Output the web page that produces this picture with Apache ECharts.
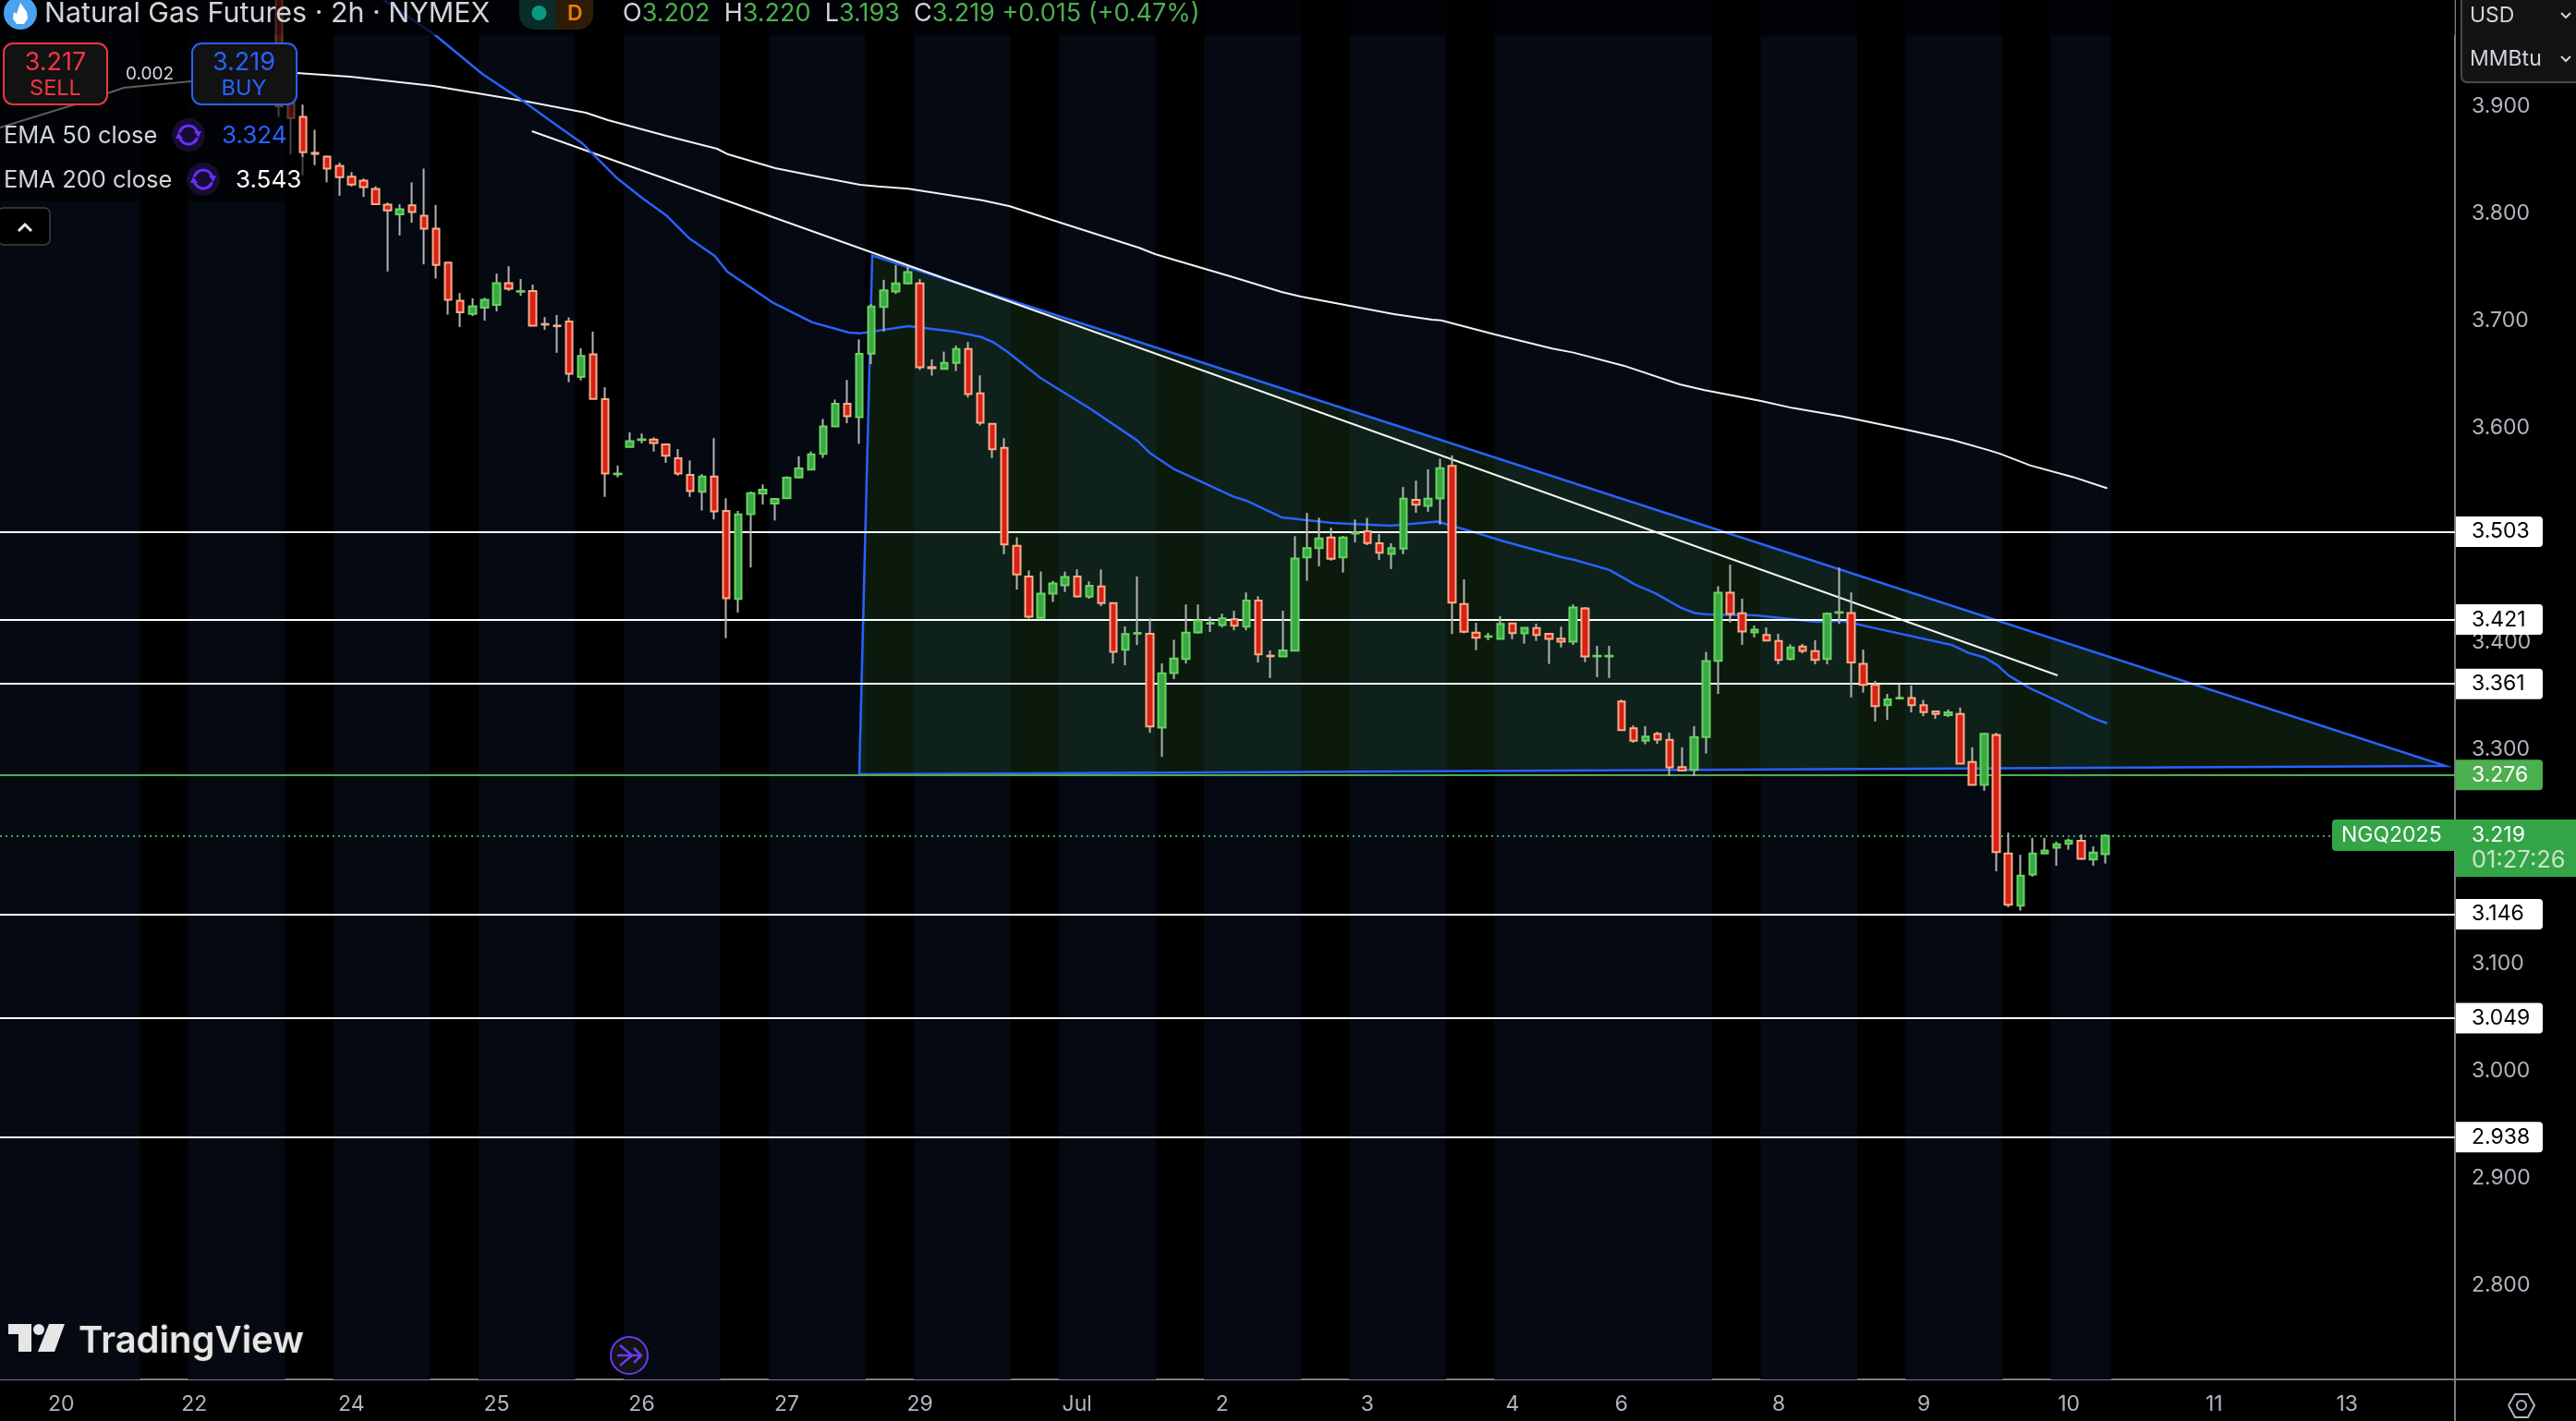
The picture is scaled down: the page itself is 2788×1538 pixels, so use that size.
<!DOCTYPE html>
<html>
<head>
<meta charset="utf-8">
<style>
  html, body { margin: 0; padding: 0; background: #000; }
  #chart { width: 2788px; height: 1538px; }
</style>
<script src="https://cdn.jsdelivr.net/npm/echarts@6/dist/echarts.min.js"></script>
</head>
<body>
<div id="chart"></div>
<script>
// 2h bars, one entry per bar
var opens = [4.02,3.93,3.89,3.8565,3.853,3.8444,3.8342,3.8306,3.8227,3.8081,3.7992,3.8075,3.7979,3.7857,3.754,3.7184,3.7062,3.7121,3.7147,3.7349,
  3.7269,3.7276,3.6968,3.6953,3.6992,3.6474,3.6685,3.6266,3.5566,3.5821,3.5885,3.589,3.5844,3.5715,3.556,3.5402,3.5544,3.5224,3.4402,3.5194,
  3.5385,3.5293,3.5342,3.5537,3.561,3.5755,3.6012,3.6223,3.6098,3.6692,3.7126,3.7272,3.7347,3.7347,3.6565,3.6549,3.6605,3.6734,3.6321,3.6037,
  3.5813,3.4899,3.4612,3.4226,3.4453,3.4529,3.4612,3.4424,3.4519,3.4364,3.3929,3.4078,3.4077,3.3203,3.3711,3.3843,3.409,3.4172,3.416,3.4212,
  3.4143,3.4387,3.3873,3.3866,3.3919,3.479,3.4876,3.4975,3.479,3.5012,3.5034,3.4922,3.4823,3.4872,3.5328,3.5272,3.5341,3.5643,3.4355,3.4087,
  3.4049,3.4029,3.4175,3.4081,3.4131,3.4076,3.4032,3.4003,3.4314,3.3866,3.3866,3.3446,3.3196,3.3079,3.3143,3.3088,3.2834,3.2808,3.3114,3.3825,
  3.446,3.4268,3.409,3.4067,3.4011,3.3842,3.3959,3.3915,3.3842,3.4273,3.4271,3.3796,3.36,3.3411,3.3474,3.3478,3.3411,3.3353,3.3318,3.3329,
  3.288,3.2668,3.3134,3.2027,3.154,3.1832,3.2027,3.2082,3.2117,3.2146,3.1972,3.2021];
var closes = [3.9,3.889,3.857,3.8555,3.8418,3.8339,3.827,3.8246,3.8085,3.8028,3.8038,3.8012,3.7857,3.752,3.7194,3.7078,3.7134,3.7194,3.7349,3.7296,
  3.7275,3.6953,3.6962,3.6947,3.6504,3.6669,3.627,3.5573,3.5572,3.5874,3.5892,3.5857,3.5738,3.5573,3.5408,3.5544,3.522,3.4408,3.5191,3.5389,
  3.5421,3.5336,3.5534,3.562,3.5752,3.6012,3.6223,3.6108,3.6689,3.7131,3.7281,3.7347,3.7453,3.6565,3.6555,3.6605,3.6734,3.6315,3.6047,3.58,
  3.4912,3.4631,3.4236,3.4453,3.4546,3.4608,3.4427,3.4526,3.4364,3.3909,3.4074,3.4085,3.3213,3.3708,3.3846,3.4087,3.4199,3.4178,3.4222,3.4153,
  3.4387,3.3886,3.3867,3.3922,3.478,3.4876,3.4968,3.4777,3.4975,3.5022,3.4925,3.4833,3.4876,3.5338,3.5282,3.5338,3.5622,3.4367,3.4096,3.4041,
  3.4055,3.4169,3.4084,3.4134,3.4067,3.4029,3.4003,3.4323,3.3866,3.3872,3.3872,3.3178,3.3079,3.3117,3.3091,3.2831,3.2802,3.3114,3.3822,3.446,
  3.4262,3.4099,3.4116,3.4014,3.3834,3.395,3.3918,3.3834,3.4265,3.4279,3.381,3.36,3.3402,3.3466,3.348,3.3411,3.3347,3.3329,3.3344,3.2866,
  3.2668,3.3143,3.2041,3.1549,3.182,3.2027,3.2056,3.2114,3.2149,3.1977,3.2036,3.2193];
var lows = [3.89,3.855,3.8355,3.845,3.829,3.8164,3.825,3.8154,3.8085,3.7458,3.7794,3.7913,3.7524,3.7392,3.7055,3.694,3.7042,3.6999,3.7085,3.7276,
  3.723,3.6953,3.6913,3.6699,3.6425,3.6441,3.627,3.5355,3.5537,3.5821,3.5854,3.5778,3.5672,3.5553,3.5355,3.5227,3.5144,3.4036,3.4276,3.4696,
  3.5283,3.5134,3.5342,3.5527,3.561,3.5718,3.6012,3.6042,3.585,3.6593,3.6899,3.7248,3.7337,3.6539,3.6486,3.6549,3.6529,3.6282,3.6021,3.5717,
  3.482,3.449,3.4219,3.4219,3.4374,3.4467,3.4417,3.4404,3.4335,3.38,3.3783,3.3972,3.3153,3.2929,3.3655,3.38,3.408,3.4094,3.4137,3.411,
  3.411,3.381,3.3665,3.3866,3.3919,3.4572,3.4707,3.476,3.4648,3.4929,3.4905,3.4767,3.4681,3.482,3.5206,3.5216,3.5097,3.4075,3.4081,3.3924,
  3.4017,3.4029,3.4026,3.3985,3.4011,3.3796,3.395,3.3973,3.3813,3.3673,3.3665,3.3178,3.3061,3.3047,3.305,3.2749,3.2793,3.2749,3.296,3.3516,
  3.4183,3.3974,3.4043,3.4014,3.3793,3.3828,3.3895,3.3793,3.3793,3.4169,3.3484,3.3528,3.3259,3.3274,3.3464,3.3344,3.3309,3.3283,3.33,3.2866,
  3.2668,3.2613,3.1861,3.1526,3.1494,3.1811,3.2021,3.1913,3.2062,3.1969,3.1913,3.1934];
var highs = [4.05,3.95,3.9015,3.878,3.854,3.8474,3.8385,3.8326,3.8253,3.8101,3.8085,3.8289,3.8418,3.8078,3.754,3.7256,3.7207,3.7213,3.7438,3.7507,
  3.7388,3.7336,3.7032,3.7052,3.7029,3.6742,3.6897,3.6378,3.5646,3.5956,3.5946,3.591,3.5844,3.5801,3.5695,3.5567,3.5903,3.5342,3.5224,3.5405,
  3.5471,3.5336,3.5547,3.5735,3.5778,3.6081,3.6263,3.6445,3.6824,3.7154,3.738,3.7519,3.7503,3.7387,3.6638,3.671,3.6767,3.68,3.6489,3.6037,
  3.5902,3.4978,3.4668,3.4658,3.4572,3.4658,3.4678,3.4566,3.4678,3.4364,3.4146,3.4612,3.4219,3.3801,3.4021,3.4351,3.4351,3.4236,3.4265,3.4292,
  3.4463,3.4427,3.3922,3.4292,3.4988,3.5206,3.516,3.5067,3.4991,3.5143,3.5159,3.5008,3.4922,3.5447,3.5506,3.5612,3.5711,3.5742,3.4585,3.418,
  3.4087,3.4241,3.4175,3.4134,3.4172,3.4076,3.4143,3.4352,3.4326,3.3965,3.3965,3.3463,3.3222,3.3216,3.3163,3.3155,3.3018,3.3216,3.3909,3.4521,
  3.4722,3.4405,3.4154,3.4137,3.4078,3.3979,3.3982,3.4017,3.4277,3.4696,3.4463,3.393,3.3638,3.3516,3.3606,3.3595,3.346,3.3362,3.337,3.3388,
  3.3018,3.3155,3.3155,3.2222,3.2015,3.2173,3.2173,3.2138,3.2167,3.2205,3.2094,3.2205];

// EMA curves read at the bends, [bar position, price]
var ema50 = [[8.65,3.9991],[12.93,3.9663],[16.82,3.9301],[20.26,3.9043],[22.37,3.887],[25.07,3.8655],[27.98,3.8327],[30.11,3.8138],[32.02,3.7983],[33.93,3.7767],
  [36.04,3.7603],[37.07,3.7457],[40.89,3.7164],[44.1,3.6983],[47.15,3.6888],[48.03,3.688],[52.04,3.6948],[55.9,3.6896],[58,3.6849],[59.14,3.6793],
  [60.21,3.6711],[62.96,3.6465],[67.16,3.6172],[70.98,3.588],[71.98,3.5767],[74.04,3.5612],[78.9,3.5358],[80,3.5319],[82.9,3.5164],[87.1,3.5112],
  [91.92,3.5086],[95.78,3.5124],[98.8,3.5026],[101.16,3.4944],[106.05,3.4793],[107.12,3.4767],[110.02,3.4673],[112.16,3.4535],[113.77,3.4457],[115.94,3.4319],
  [117.05,3.4271],[118.11,3.4259],[122.1,3.425],[127.13,3.419],[129.27,3.4198],[131.79,3.4134],[138.29,3.3974],[139.74,3.3897],[141,3.3857],[142.08,3.3785],
  [142.99,3.369],[144.78,3.3569],[146.92,3.3457],[150.01,3.3289],[151.17,3.3241]];
var ema200 = [[-23.06,3.88],[-17.1,3.9008],[-12.82,3.9172],[-7.24,3.9232],[1.47,3.931],[5.9,3.9276],[12.77,3.9189],[20.57,3.9043],[25.38,3.8939],[27.21,3.887],
  [32.02,3.8724],[36.23,3.8603],[37.14,3.8551],[41.04,3.8422],[44.86,3.8336],[48.06,3.8267],[49.52,3.8252],[52.04,3.823],[58.15,3.8123],[60.44,3.8066],
  [64.8,3.7907],[71.14,3.7678],[72.44,3.762],[74.23,3.756],[78.9,3.7405],[82.9,3.7267],[84.5,3.7224],[92.2,3.706],[95.35,3.7008],[96.1,3.7002],
  [100.47,3.6873],[105.28,3.6739],[107.04,3.6701],[111.16,3.658],[115.82,3.6405],[117.88,3.6351],[122.55,3.625],[125.15,3.6184],[129.27,3.6106],[134.54,3.5983],
  [138.33,3.5888],[141.2,3.5796],[142.26,3.5759],[144.78,3.5649],[148.37,3.5539],[151.17,3.5435]];

// drawings on the chart
var trendLine = [[20.92,3.8767],[147.07,3.3689]];
var triangle = [[49.06,3.7607],[47.99,3.2767],[179.14,3.2844]];
var whiteLevels = [3.503,3.421,3.361,3.146,3.049,2.938];
var greenLevel = 3.276;
var lastPrice = 3.219;

// session shading, start and end in bar positions
var sessions = [[-23.5,-11.5],[-7.5,0.5],[4.5,12.5],[16.5,24.5],[28.5,36.5],[40.5,48.5],[52.5,60.5],[64.5,72.5],[76.5,84.5],[88.5,96.5],
  [100.5,118.5],[122.5,130.5],[134.5,142.5],[146.5,151.5]];

var dayTicks = [-18,-7,6,18,30,42,53,66,78,90,102,111,124,136,148,160,171];
var dayLabels = ['20','22','24','25','26','27','29','Jul','2','3','4','6','8','9','10','11','13'];
var priceTicks = [2.8,2.9,3.0,3.1,3.3,3.4,3.6,3.7,3.8,3.9];

var FONT = 'Inter';
var GREY = '#b2b5be';
var TEXT = '#d1d4dc';

var myChart = echarts.init(document.getElementById('chart'));

function levelLine(v, color, textColor) {
    return {
        yAxis: v,
        lineStyle: { color: color, width: 2, type: 'solid', opacity: 1 },
        label: {
            show: true,
            position: 'end',
            distance: 1,
            formatter: v.toFixed(3),
            fontFamily: FONT,
            fontSize: 23,
            color: textColor,
            backgroundColor: color,
            borderRadius: [0, 4, 4, 0],
            width: 77,
            height: 33,
            lineHeight: 33,
            padding: [0, 0, 0, 17],
            align: 'left'
        }
    };
}

// little helpers for the screen furniture around the chart
function txt(x, y, text, size, fill, extra) {
    var style = { x: x, y: y, text: text, fontFamily: FONT, fontSize: size, fill: fill, textVerticalAlign: 'middle', verticalAlign: 'middle' };
    for (var k in (extra || {})) style[k] = extra[k];
    return { type: 'text', z: 120, silent: true, style: style };
}
function box(x, y, w, h, fill, stroke, r, z) {
    return { type: 'rect', z: z || 110, silent: true, shape: { x: x, y: y, width: w, height: h, r: r || 0 },
        style: { fill: fill, stroke: stroke || null, lineWidth: stroke ? 2 : 0 } };
}
function line(points, stroke, width) {
    return { type: 'polyline', z: 121, silent: true, shape: { points: points },
        style: { stroke: stroke, lineWidth: width, fill: null } };
}
function poly(points, fill, z) {
    return { type: 'polygon', z: z || 121, silent: true, shape: { points: points }, style: { fill: fill } };
}
function circle(cx, cy, r, fill, stroke, z) {
    return { type: 'circle', z: z || 120, silent: true, shape: { cx: cx, cy: cy, r: r },
        style: { fill: fill, stroke: stroke || null, lineWidth: stroke ? 2 : 0 } };
}
function refreshIcon(cx, cy) {
    return [
        circle(cx, cy, 18, '#170c33'),
        { type: 'arc', z: 121, silent: true, shape: { cx: cx, cy: cy, r: 10, startAngle: 3.4, endAngle: 5.9 }, style: { stroke: '#6a2ff5', lineWidth: 3, fill: null } },
        { type: 'arc', z: 121, silent: true, shape: { cx: cx, cy: cy, r: 10, startAngle: 0.3, endAngle: 2.8 }, style: { stroke: '#6a2ff5', lineWidth: 3, fill: null } },
        poly([[cx + 6, cy - 4], [cx + 14, cy - 4], [cx + 11, cy + 3]], '#6a2ff5'),
        poly([[cx - 6, cy + 4], [cx - 14, cy + 4], [cx - 11, cy - 3]], '#6a2ff5')
    ];
}

var furniture = [
    // header and legend veil
    box(0, 0, 2657, 38, 'rgba(0,0,0,0.72)', null, 0, 100),
    box(0, 38, 320, 132, 'rgba(0,0,0,0.62)', null, 0, 100),
    box(0, 170, 335, 48, 'rgba(0,0,0,0.62)', null, 0, 100),

    // title row
    circle(22, 14, 18, '#4aa3f0'),
    poly([[22, 3], [29, 13], [30, 20], [26, 26], [18, 26], [14, 20], [15, 13], [18, 15]], '#ffffff', 121),
    txt(48, 15, 'Natural Gas Futures · 2h · NYMEX', 30.4, TEXT),
    box(562, 0, 40, 32, '#0a2b28', null, [0, 0, 0, 16]),
    box(602, 0, 40, 32, '#2e1c07', null, [0, 0, 16, 0]),
    circle(583.5, 14, 8, '#089981'),
    txt(614, 15, 'D', 23, '#f57c00', { fontWeight: 600 }),
    {
        type: 'text', z: 120, silent: true,
        style: {
            x: 674, y: 15, verticalAlign: 'middle', textVerticalAlign: 'middle',
            text: '{k|O}{v|3.202}  {k|H}{v|3.220}  {k|L}{v|3.193}  {k|C}{v|3.219} {v|+0.015 (+0.47%)}',
            fontFamily: FONT, fontSize: 27,
            rich: {
                k: { fill: TEXT, fontFamily: FONT, fontSize: 27 },
                v: { fill: '#4caf50', fontFamily: FONT, fontSize: 27 }
            }
        }
    },

    // sell and buy boxes
    box(4, 47, 112, 66, '#121212', '#f23645', 10),
    txt(60, 68, '3.217', 27, '#f23645', { textAlign: 'center', align: 'center' }),
    txt(60, 96, 'SELL', 23.5, '#f23645', { textAlign: 'center', align: 'center' }),
    txt(162, 80, '0.002', 19, TEXT, { textAlign: 'center', align: 'center' }),
    box(208, 47, 113, 66, '#121212', '#2962ff', 10),
    txt(264, 68, '3.219', 27, '#2962ff', { textAlign: 'center', align: 'center' }),
    txt(264, 96, 'BUY', 23.5, '#2962ff', { textAlign: 'center', align: 'center' }),

    // indicator legend
    txt(4, 147, 'EMA 50 close', 25.5, TEXT),
    txt(240, 147, '3.324', 26, '#2962ff'),
    txt(4, 195, 'EMA 200 close', 25.5, TEXT),
    txt(255, 195, '3.543', 26, '#ffffff'),
    box(-2, 225, 56, 40, '#000000', '#333333', 6),
    line([[20, 250], [27, 243], [34, 250]], '#e8e8e8', 3),

    // unit menu
    box(2664, -6, 130, 95, '#131313', '#4a4a4a', 6),
    txt(2673, 17, 'USD', 23, TEXT),
    txt(2673, 64, 'MMBtu', 23, TEXT),
    line([[2772, 14], [2777, 19], [2782, 14]], TEXT, 2),
    line([[2772, 61], [2777, 66], [2782, 61]], TEXT, 2),

    // axis lines beyond the plot
    line([[2657, 1493], [2788, 1493]], '#7a7d86', 2),
    line([[2657, 1493], [2657, 1538]], '#7a7d86', 2),

    // last price tags
    box(2524, 887, 134, 34, '#34a547', null, [4, 0, 0, 4]),
    txt(2534, 904, 'NGQ2025', 23, '#ffffff'),
    box(2658, 887, 130, 62, '#34a547'),
    txt(2675, 904, lastPrice.toFixed(3), 23, '#ffffff'),
    txt(2675, 931, '01:27:26', 25.5, '#c8e6c9'),

    // logo
    poly([[9, 1433], [34, 1433], [34, 1463], [20, 1463], [20, 1444], [9, 1444]], '#e6e6e6'),
    circle(42, 1439, 6, '#e6e6e6', null, 121),
    poly([[53, 1433], [70, 1433], [59, 1463], [41, 1463]], '#e6e6e6'),
    txt(85, 1452, 'TradingView', 40, '#e6e6e6', { fontWeight: 600, stroke: '#121212', lineWidth: 3 }),

    // go to realtime button
    circle(681, 1467, 20, '#131313', '#6a3cf0'),
    line([[671, 1456], [684, 1467], [671, 1478]], '#6a3cf0', 2.5),
    line([[668, 1467], [694, 1467]], '#6a3cf0', 2.5),
    line([[686, 1459], [694, 1467], [686, 1475]], '#6a3cf0', 2.5),

    // settings icon
    line([[2715, 1521], [2722, 1509], [2736, 1509], [2743, 1521], [2736, 1534], [2722, 1534], [2715, 1521]], GREY, 2),
    circle(2729, 1521, 5, null, GREY, 121)
];
furniture = furniture.concat(refreshIcon(204, 146), refreshIcon(220, 194));

var option = {
    backgroundColor: '#000000',
    animation: false,
    grid: { left: 0, top: 0, width: 2657, height: 1493, containLabel: false },
    xAxis: {
        type: 'value',
        min: -23.056,
        max: 179.92,
        axisLine: { show: true, lineStyle: { color: '#7a7d86', width: 2 } },
        axisTick: { show: false },
        splitLine: { show: false },
        axisLabel: {
            customValues: dayTicks,
            formatter: function (v) { return dayLabels[dayTicks.indexOf(v)]; },
            fontFamily: FONT,
            fontSize: 23,
            color: GREY,
            margin: 16
        }
    },
    yAxis: {
        type: 'value',
        position: 'right',
        min: 2.712,
        max: 3.9991,
        axisLine: { show: true, onZero: false, lineStyle: { color: '#7a7d86', width: 2 } },
        axisTick: { show: false },
        splitLine: { show: false },
        axisLabel: {
            customValues: priceTicks,
            formatter: function (v) { return v.toFixed(3); },
            fontFamily: FONT,
            fontSize: 23,
            color: GREY,
            margin: 18
        }
    },
    graphic: { elements: furniture },
    series: [
        {
            // session bands
            type: 'custom',
            z: 1,
            silent: true,
            clip: true,
            data: sessions,
            encode: { x: [0, 1] },
            renderItem: function (params, api) {
                var a = api.coord([api.value(0), 3.9991]);
                var b = api.coord([api.value(1), 2.712]);
                return { type: 'rect', shape: { x: a[0], y: a[1], width: b[0] - a[0], height: b[1] - a[1] }, style: { fill: '#040912' } };
            }
        },
        {
            // price levels
            type: 'line',
            z: 2,
            data: [],
            silent: true,
            markLine: {
                silent: true,
                symbol: 'none',
                animation: false,
                precision: 3,
                data: whiteLevels.map(function (v) { return levelLine(v, '#ffffff', '#000000'); })
                    .concat([levelLine(greenLevel, '#4caf50', '#ffffff'), {
                        yAxis: lastPrice,
                        label: { show: false },
                        lineStyle: { color: '#3da94a', width: 2, type: [2, 4], opacity: 1 }
                    }])
            }
        },
        {
            // falling wedge
            type: 'custom',
            z: 3,
            silent: true,
            data: [0],
            encode: { x: -1, y: -1 },
            renderItem: function (params, api) {
                var pts = triangle.map(function (p) { return api.coord(p); });
                return {
                    type: 'polygon',
                    shape: { points: pts },
                    style: { fill: 'rgba(76,175,80,0.15)', stroke: '#2962ff', lineWidth: 2.5, lineJoin: 'miter' }
                };
            }
        },
        {
            name: 'EMA 200',
            type: 'line',
            z: 4,
            data: ema200,
            showSymbol: false,
            smooth: false,
            lineStyle: { color: '#f2f2f2', width: 2 }
        },
        {
            name: 'Trend line',
            type: 'line',
            z: 4,
            data: trendLine,
            showSymbol: false,
            lineStyle: { color: '#f2f2f2', width: 2 }
        },
        {
            name: 'EMA 50',
            type: 'line',
            z: 4,
            data: ema50,
            showSymbol: false,
            smooth: false,
            lineStyle: { color: '#2962ff', width: 2.5 }
        },
        {
            // wicks, grey and thin
            name: 'Wicks',
            type: 'candlestick',
            z: 5,
            barWidth: 1,
            data: opens.map(function (o, i) { return [i, o, closes[i], lows[i], highs[i]]; }),
            itemStyle: { color: '#b4b4b4', color0: '#b4b4b4', borderColor: '#b4b4b4', borderColor0: '#b4b4b4', borderWidth: 2 }
        },
        {
            // bodies, fill and outline differ
            name: 'Bodies',
            type: 'candlestick',
            z: 6,
            barWidth: 8,
            data: opens.map(function (o, i) {
                return [i, o, closes[i], Math.min(o, closes[i]), Math.max(o, closes[i])];
            }),
            itemStyle: { color: '#3aa847', color0: '#d7201a', borderColor: '#67d45c', borderColor0: '#f9ad85', borderWidth: 2 }
        }
    ]
};
myChart.setOption(option);
</script>
</body>
</html>
